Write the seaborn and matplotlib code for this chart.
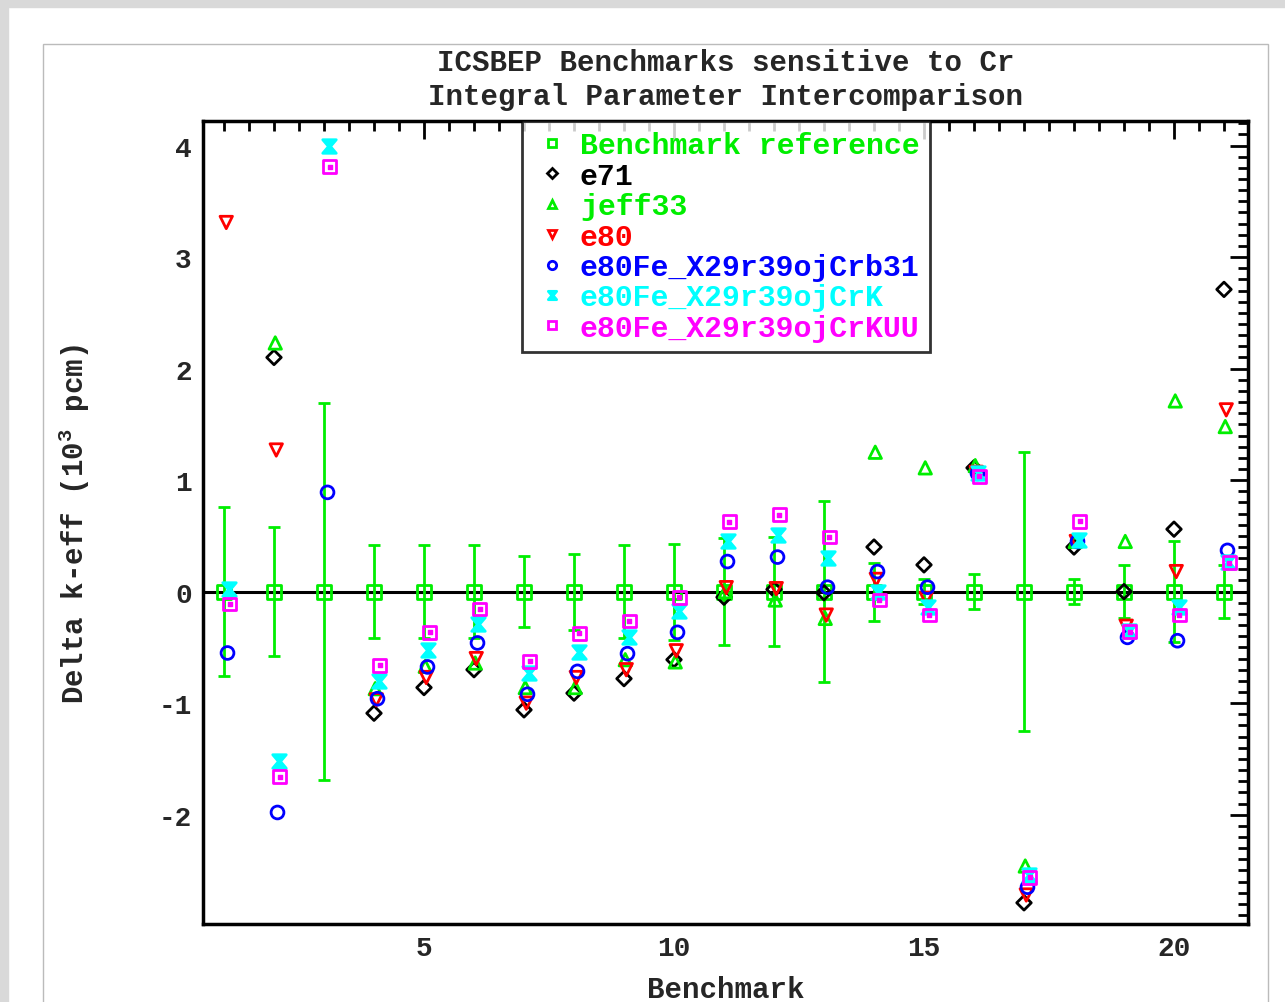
import numpy as np
import pandas as pd
import matplotlib
matplotlib.use("Agg")
import matplotlib.pyplot as plt
import seaborn as sns
from matplotlib.path import Path
from matplotlib.lines import Line2D
from matplotlib.patches import Rectangle
from matplotlib.ticker import MultipleLocator

# Benchmark numbers 1..21
benchmark = list(range(1, 22))

# Benchmark reference uncertainty (10^3 pcm)
ref_unc = [0.76, 0.58, 1.69, 0.42, 0.42, 0.42, 0.32, 0.34, 0.42, 0.43, 0.48,
           0.49, 0.81, 0.26, 0.11, 0.16, 1.25, 0.11, 0.235, 0.45, 0.235]

nan = np.nan
e71 = [nan, 2.10, nan, -1.09, -0.86, -0.70, -1.06, -0.91, -0.78, -0.61, -0.05,
       0.02, -0.01, 0.40, 0.24, 1.11, -2.79, 0.40, 0.0, 0.56, 2.71]
jeff33 = [nan, 2.23, nan, -0.87, -0.67, -0.64, -0.86, -0.86, -0.61, -0.63, 0.0,
          -0.075, -0.24, 1.25, 1.11, 1.13, -2.46, 0.45, 0.45, 1.71, 1.48]
e80 = [3.31, 1.27, nan, -0.97, -0.77, -0.60, -1.00, -0.77, -0.70, -0.53, 0.036,
       0.027, -0.21, 0.11, -0.06, 1.07, -2.72, 0.45, -0.31, 0.18, 1.63]
crb31 = [-0.55, -1.98, 0.89, -0.96, -0.675, -0.46, -0.92, -0.715, -0.556, -0.365, 0.27,
         0.31, 0.04, 0.18, 0.04, 1.06, -2.65, 0.45, -0.41, -0.44, 0.37]
crk = [0.02, -1.52, 4.00, -0.80, -0.52, -0.29, -0.73, -0.544, -0.406, -0.17, 0.457,
       0.51, 0.30, 0.0, -0.14, 1.06, -2.54, 0.46, -0.35, -0.14, 0.265]
crkuu = [-0.11, -1.66, 3.81, -0.66, -0.365, -0.155, -0.625, -0.374, -0.263, -0.05, 0.628,
         0.69, 0.49, -0.075, -0.21, 1.034, -2.56, 0.63, -0.36, -0.21, 0.26]

GREEN = "#00ee00"
FONT = "Liberation Mono"

sns.set_theme(style="white")
plt.rcParams["font.family"] = [FONT, "DejaVu Sans"]
plt.rcParams["font.weight"] = "bold"
plt.rcParams["axes.unicode_minus"] = False
plt.rcParams["mathtext.fontset"] = "custom"
plt.rcParams["mathtext.rm"] = FONT + ":bold"
plt.rcParams["mathtext.default"] = "rm"

# hourglass marker for the CrK series
hourglass = Path([(-1, 1), (1, 1), (0.15, 0), (1, -1), (-1, -1), (-0.15, 0), (-1, 1)],
                 [Path.MOVETO] + [Path.LINETO] * 5 + [Path.CLOSEPOLY])

series = [
    ("e71", e71, "black", "D", 0.0, 55),
    ("jeff33", jeff33, GREEN, "^", 0.025, 80),
    ("e80", e80, "red", "v", 0.045, 80),
    ("e80Fe_X29r39ojCrb31", crb31, "blue", "o", 0.07, 85),
    ("e80Fe_X29r39ojCrK", crk, "cyan", hourglass, 0.09, 95),
    ("e80Fe_X29r39ojCrKUU", crkuu, "magenta", "s", 0.11, 85),
]

fig = plt.figure(figsize=(12.85, 10.03), dpi=100)
# page frame decoration
fig.patches.append(Rectangle((0, 0.992), 1, 0.008, transform=fig.transFigure,
                             color="#d9d9d9", zorder=0))
fig.patches.append(Rectangle((0, 0), 0.006, 1, transform=fig.transFigure,
                             color="#d9d9d9", zorder=0))
fig.patches.append(Rectangle((43 / 1285, -0.01), (1268 - 43) / 1285, 1 - 45 / 1003 + 0.01,
                             transform=fig.transFigure, fill=False,
                             edgecolor="#bbbbbb", lw=1, zorder=0))

ax = fig.add_axes([203 / 1285, 78 / 1003, 1045 / 1285, 803 / 1003])

ref = pd.DataFrame({"benchmark": benchmark, "delta": 0.0, "unc": ref_unc})
ax.axhline(0, color="black", lw=2.2, zorder=1)
ax.errorbar(ref["benchmark"], ref["delta"], yerr=ref["unc"], fmt="none",
            ecolor=GREEN, elinewidth=2, capsize=4, capthick=2, zorder=2)
sns.scatterplot(data=ref, x="benchmark", y="delta", ax=ax, marker="s", s=100,
                facecolors="none", edgecolors=GREEN, linewidth=2, zorder=3)

for name, vals, col, mk, off, size in series:
    df = pd.DataFrame({"benchmark": np.array(benchmark) + off, "delta": vals}).dropna()
    sns.scatterplot(data=df, x="benchmark", y="delta", ax=ax, marker=mk, s=size,
                    facecolors="none" if col != "cyan" else col,
                    edgecolors=col, linewidth=2, zorder=4)
    if col == "magenta":
        ax.scatter(df["benchmark"], df["delta"], marker="s", s=6, color=col, zorder=5)

ax.set_xlim(0.58, 21.48)
ax.set_ylim(-2.98, 4.22)
ax.xaxis.set_major_locator(MultipleLocator(5))
ax.xaxis.set_minor_locator(MultipleLocator(0.5))
ax.yaxis.set_major_locator(MultipleLocator(1))
ax.yaxis.set_minor_locator(MultipleLocator(0.1))
ax.tick_params(which="both", direction="in", top=True, right=True, color="black",
               labelsize=20, width=2)
ax.tick_params(which="major", length=13, pad=8)
ax.tick_params(which="minor", length=7)
for sp in ax.spines.values():
    sp.set_color("black")
    sp.set_linewidth(2.5)

ax.set_xlabel("Benchmark", fontsize=21, fontweight="bold", labelpad=10)
ax.set_ylabel("Delta k-eff (10$^{3}$ pcm)", fontsize=21, fontweight="bold", labelpad=48)
ax.set_title("ICSBEP Benchmarks sensitive to Cr\nIntegral Parameter Intercomparison",
             fontsize=21, fontweight="bold", linespacing=1.3, pad=12)

handles = [Line2D([], [], ls="none", marker="s", color=GREEN, mfc="none", mew=2, ms=6)]
labels = ["Benchmark reference"]
colors = [GREEN]
for name, vals, col, mk, off, size in series:
    handles.append(Line2D([], [], ls="none", marker=mk, color=col,
                          mfc="none" if col != "cyan" else col, mew=2,
                          ms=5 if mk == "D" else 6))
    labels.append(name)
    colors.append(col)
leg = ax.legend(handles, labels, loc="upper left", bbox_to_anchor=(0.305, 1.0),
                borderaxespad=0, fontsize=21.5, frameon=True, fancybox=False,
                handletextpad=0.3, labelspacing=0.08, borderpad=0.35, handlelength=1.3)
leg.get_frame().set_edgecolor("black")
leg.get_frame().set_linewidth(2)
for t, c in zip(leg.get_texts(), colors):
    t.set_color(c)
    t.set_fontweight("bold")

fig.savefig("out.png", dpi=100)
